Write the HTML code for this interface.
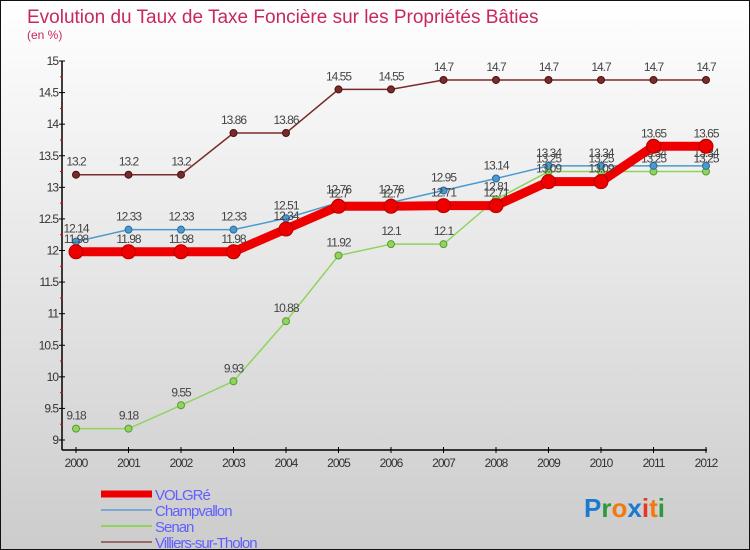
<!DOCTYPE html>
<html><head><meta charset="utf-8"><style>
body{margin:0;}
#wrap{position:relative;width:748px;height:548px;border:1px solid #111;background:linear-gradient(#fff,#ccc);font-family:"Liberation Sans",sans-serif;overflow:hidden}
</style></head><body>
<div id="wrap">
<svg id="chart" width="748" height="548">
<text x="26" y="22" font-size="19" fill="#c8285a">Evolution du Taux de Taxe Foncière sur les Propriétés Bâties</text>
<text x="26" y="38" font-size="12" fill="#c8285a">(en %)</text>
</svg>
</div>
<script>
const years=["2000","2001","2002","2003","2004","2005","2006","2007","2008","2009","2010","2011","2012"];
const yTicks=[9,9.5,10,10.5,11,11.5,12,12.5,13,13.5,14,14.5,15];
const volgre=[11.98,11.98,11.98,11.98,12.34,12.7,12.7,12.71,12.71,13.09,13.09,13.65,13.65];
const champvallon=[12.14,12.33,12.33,12.33,12.51,12.76,12.76,12.95,13.14,13.34,13.34,13.34,13.34];
const senan=[9.18,9.18,9.55,9.93,10.88,11.92,12.1,12.1,12.81,13.25,13.25,13.25,13.25];
const villiers=[13.2,13.2,13.2,13.86,13.86,14.55,14.55,14.7,14.7,14.7,14.7,14.7,14.7];
const svg=document.getElementById('chart');const NS='http://www.w3.org/2000/svg';
function X(i){return 75+i*(630/12);}
function Y(v){return 439-(v-9)*(379/6);}
function mk(t,a,p){const e=document.createElementNS(NS,t);for(const k in a)e.setAttribute(k,a[k]);(p||svg).appendChild(e);return e;}
// axes
let ax=mk('line',{x1:61,y1:Y(15),x2:61,y2:449,stroke:'#000','stroke-width':1.5});


let bx=mk('line',{x1:61,y1:449,x2:706,y2:449,stroke:'#000','stroke-width':1.5});


yTicks.forEach(v=>{mk('line',{x1:58,y1:Y(v),x2:64,y2:Y(v),stroke:'#000'});
 if(v<15)mk('line',{x1:59,y1:Y(v+0.25),x2:62,y2:Y(v+0.25),stroke:'#e00'});
 const t=mk('text',{x:57,y:Y(v)+4,'font-size':12,fill:'#333','text-anchor':'end','letter-spacing':'-1'});t.textContent=String(v);
 
 });
years.forEach((y,i)=>{mk('line',{x1:X(i),y1:446,x2:X(i),y2:452,stroke:'#000'});
 const t=mk('text',{x:X(i),y:466,'font-size':12,fill:'#333','text-anchor':'middle','letter-spacing':'-1'});t.textContent=y;
 
 });
function series(data,color,w,r,name,dark){
 const g=mk('g',{});
 
 
 mk('polyline',{points:data.map((v,i)=>X(i)+','+Y(v)).join(' '),fill:'none',stroke:color,'stroke-width':w},g);
 data.forEach((v,i)=>{const c=mk('circle',{cx:X(i),cy:Y(v),r:r,fill:color,stroke:dark,'stroke-width':1},g);
  
  
  const t=mk('text',{x:X(i),y:Y(v)-9,'font-size':12,fill:'#444','text-anchor':'middle','letter-spacing':'-1'},g);t.textContent=String(v);});
}
series(senan,'#8fd45e',1.5,3.5,'senan','#5a9a30');
series(champvallon,'#4a9ad0',1.5,3.5,'champvallon','#2a6a9a');
series(villiers,'#7a2a2a',1.5,3.5,'villiers-sur-tholon','#4a1010');
series(volgre,'#ee0000',9,7,'volgre','#b00000');
// legend
const leg=[['VOLGRé','#ee0000',7],['Champvallon','#7aaad0',2],['Senan','#8fd45e',2],['Villiers-sur-Tholon','#9a6a6a',2]];
leg.forEach((l,i)=>{const y=493+i*16;
 const g=mk('g',{});
 
 
 mk('line',{x1:100,y1:y,x2:151,y2:y,stroke:l[1],'stroke-width':l[2]},g);
 const t=mk('text',{x:154,y:y+6,'font-size':15,fill:'#6060ff','letter-spacing':'-1'},g);t.textContent=l[0];});
const logo=mk('text',{x:583,y:516,'font-size':26,'font-weight':'bold'});


[['P','#1a7ad0'],['r','#2a9a3a'],['o','#f07a10'],['x','#1a7ad0'],['i','#e03a20'],['t','#f07a10'],['i','#2a9a3a']].forEach(c=>{const s=mk('tspan',{fill:c[1]},logo);s.textContent=c[0];});
</script>
</body></html>
